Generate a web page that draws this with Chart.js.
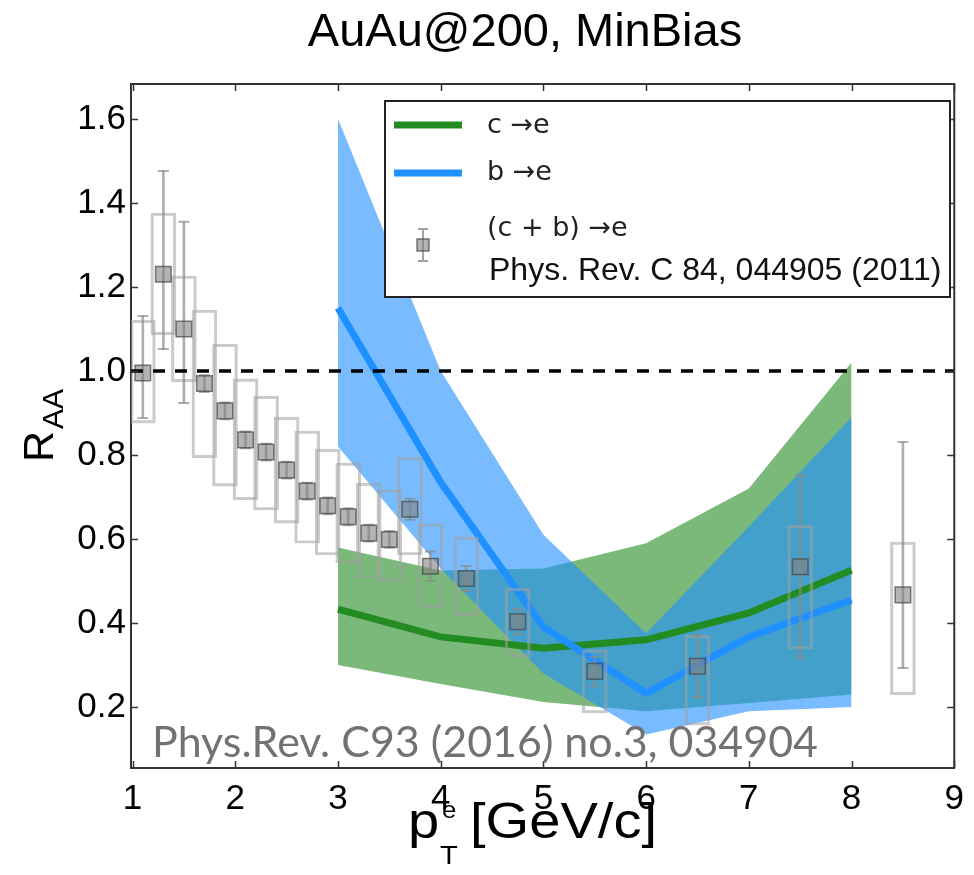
<!DOCTYPE html>
<html>
<head>
<meta charset="utf-8">
<script src="https://cdn.jsdelivr.net/npm/chart.js@4.4.1/dist/chart.umd.min.js"></script>
<style>
  html, body { margin: 0; padding: 0; background: #ffffff; }
  #wrap { width: 974px; height: 875px; }
</style>
</head>
<body>
<div id="wrap"><canvas id="raa" width="974" height="875"></canvas></div>
<script>
// ---- PHENIX heavy-flavour electrons, (c+b) -> e, Au+Au 200 GeV min. bias ----
const ptBins    = [1.1, 1.3, 1.5, 1.7, 1.9, 2.1, 2.3, 2.5, 2.7, 2.9, 3.1, 3.3, 3.5, 3.7, 3.9, 4.25, 4.75, 5.5, 6.5, 7.5, 8.5];
const raaValues = [0.995, 1.230, 1.100, 0.970, 0.905, 0.836, 0.807, 0.764, 0.714, 0.679, 0.653, 0.614, 0.599, 0.671, 0.535, 0.506, 0.403, 0.285, 0.297, 0.534, 0.467];
const statLow   = [0.888, 1.052, 0.924, 0.950, 0.885, 0.816, 0.787, 0.744, 0.694, 0.659, 0.633, 0.594, 0.579, 0.646, 0.500, 0.476, 0.373, 0.250, 0.224, 0.316, 0.293];
const statHigh  = [1.131, 1.476, 1.355, 0.990, 0.925, 0.856, 0.827, 0.784, 0.734, 0.699, 0.673, 0.634, 0.619, 0.696, 0.570, 0.536, 0.433, 0.320, 0.371, 0.752, 0.831];
const sysLow    = [0.876, 1.086, 0.974, 0.793, 0.726, 0.693, 0.669, 0.638, 0.590, 0.562, 0.543, 0.507, 0.498, 0.562, 0.436, 0.417, 0.319, 0.186, 0.157, 0.338, 0.229];
const sysHigh   = [1.121, 1.376, 1.226, 1.145, 1.064, 0.981, 0.940, 0.890, 0.857, 0.814, 0.781, 0.733, 0.717, 0.795, 0.636, 0.605, 0.483, 0.336, 0.371, 0.633, 0.593];

// ---- model curves: charm and bottom decay electrons ----
const modelPt   = [3, 4, 5, 6, 7, 8];
const charmLow  = [0.300, 0.255, 0.212, 0.190, 0.210, 0.230];
const charmMid  = [0.433, 0.367, 0.340, 0.360, 0.424, 0.526];
const charmHigh = [0.580, 0.525, 0.530, 0.590, 0.720, 1.020];
const bottomLow  = [0.820, 0.530, 0.280, 0.135, 0.190, 0.200];
const bottomMid  = [1.150, 0.735, 0.390, 0.233, 0.367, 0.455];
const bottomHigh = [1.600, 1.000, 0.610, 0.376, 0.630, 0.890];

// ---- axes ----
const xTickValues = [1, 2, 3, 4, 5, 6, 7, 8, 9];
const yTickValues = [0.2, 0.4, 0.6, 0.8, 1.0, 1.2, 1.4, 1.6];
const xRange = [0.985, 9];
const yRange = [0.055, 1.683];
const unityLevel = 1.0;

const SANS = "'Liberation Sans', Arial, Helvetica, sans-serif";
const GREEN = 'rgb(34,139,34)';
const BLUE = 'rgb(30,144,255)';

const pts = (xs, ys) => xs.map((x, i) => ({ x: x, y: ys[i] }));
const ranges = (xs, lo, hi) => xs.map((x, i) => ({ x: x, y: [lo[i], hi[i]] }));

const bandEdge = (data, order, fill, color) => ({
  type: 'line', data: data, order: order,
  borderColor: 'transparent', borderWidth: 0, pointRadius: 0,
  fill: fill, backgroundColor: color || 'transparent'
});

// the y scale box starts at the canvas edge so its labels are not clipped
const yLabelRoom = {
  id: 'yLabelRoom',
  afterLayout(chart) { chart.scales.y.left = 0; }
};

// inward tick marks on all four sides plus the top/right frame
const frameTicks = {
  id: 'frameTicks',
  afterDatasetsDraw(chart) {
    const { ctx, chartArea: a, scales } = chart;
    ctx.save();
    ctx.strokeStyle = '#333';
    ctx.lineWidth = 2;
    ctx.beginPath();
    ctx.moveTo(a.left, a.top); ctx.lineTo(a.right, a.top); ctx.lineTo(a.right, a.bottom);
    ctx.stroke();
    ctx.lineWidth = 1.5;
    ctx.beginPath();
    const len = 7;
    xTickValues.forEach(v => {
      const px = Math.round(scales.x.getPixelForValue(v)) + 0.5;
      ctx.moveTo(px, a.bottom); ctx.lineTo(px, a.bottom - len);
      ctx.moveTo(px, a.top); ctx.lineTo(px, a.top + len);
    });
    yTickValues.forEach(v => {
      const py = Math.round(scales.y.getPixelForValue(v)) + 0.5;
      ctx.moveTo(a.left, py); ctx.lineTo(a.left + len, py);
      ctx.moveTo(a.right, py); ctx.lineTo(a.right - len, py);
    });
    ctx.stroke();
    ctx.restore();
  }
};

// legend box with two model curves and the data entry
const legendBox = {
  id: 'legendBox',
  afterDatasetsDraw(chart) {
    const ctx = chart.ctx;
    ctx.save();
    ctx.fillStyle = '#fff';
    ctx.fillRect(385, 101, 565, 196);
    ctx.strokeStyle = '#222';
    ctx.lineWidth = 2;
    ctx.strokeRect(385, 101, 565, 196);

    ctx.lineWidth = 7;
    ctx.strokeStyle = GREEN;
    ctx.beginPath(); ctx.moveTo(394, 125); ctx.lineTo(462, 125); ctx.stroke();
    ctx.strokeStyle = BLUE;
    ctx.beginPath(); ctx.moveTo(394, 173); ctx.lineTo(462, 173); ctx.stroke();

    // data marker with error bar
    ctx.strokeStyle = 'rgba(140,140,140,0.8)';
    ctx.lineWidth = 2;
    ctx.beginPath();
    ctx.moveTo(423, 229); ctx.lineTo(423, 261);
    ctx.moveTo(418, 229); ctx.lineTo(428, 229);
    ctx.moveTo(418, 261); ctx.lineTo(428, 261);
    ctx.stroke();
    ctx.fillStyle = 'rgba(130,130,130,0.6)';
    ctx.fillRect(417, 239, 12, 12);
    ctx.strokeStyle = 'rgba(70,70,70,0.7)';
    ctx.lineWidth = 1.5;
    ctx.strokeRect(417, 239, 12, 12);

    ctx.fillStyle = '#222';
    ctx.textBaseline = 'middle';
    ctx.textAlign = 'left';
    ctx.font = "27px 'DejaVu Sans', sans-serif";
    ctx.fillText('c \u2192e', 487, 126);
    ctx.fillText('b \u2192e', 487, 173);
    ctx.fillText('(c + b) \u2192e', 487, 229);
    ctx.font = '32px ' + SANS;
    ctx.fillStyle = '#111';
    ctx.fillText('Phys. Rev. C 84, 044905 (2011)', 489, 271);
    ctx.restore();
  }
};

// draws one horizontally stretched text run at a baseline point
function stretchedText(ctx, text, x, y, font, sx) {
  ctx.save();
  ctx.font = font;
  ctx.translate(x, y);
  ctx.scale(sx, 1);
  ctx.fillText(text, 0, 0);
  ctx.restore();
}

// axis titles and the reference line in grey
const annotations = {
  id: 'annotations',
  afterDraw(chart) {
    const ctx = chart.ctx;
    ctx.save();
    ctx.fillStyle = '#000';
    ctx.textAlign = 'left';
    ctx.textBaseline = 'alphabetic';

    // y title: R_AA, rotated
    ctx.save();
    ctx.translate(53, 462);
    ctx.rotate(-Math.PI / 2);
    ctx.font = '43px ' + SANS;
    ctx.fillText('R', 0, 0);
    const rw = ctx.measureText('R').width;
    ctx.font = '30px ' + SANS;
    ctx.fillText('AA', rw + 2, 10);
    ctx.restore();

    // x title: p_T^e [GeV/c]
    const big = '50px ' + SANS;
    ctx.font = big;
    const sx = 187 / ctx.measureText('[GeV/c]').width;
    stretchedText(ctx, 'p', 408, 838, big, sx);
    stretchedText(ctx, 'e', 442, 818, '23px ' + SANS, sx);
    stretchedText(ctx, 'T', 440, 864, '26px ' + SANS, sx);
    stretchedText(ctx, '[GeV/c]', 470, 838, big, sx);

    // reference
    ctx.save();
    ctx.font = "42px Lato, 'Open Sans', sans-serif";
    const ref = 'Phys.Rev. C93 (2016) no.3, 034904';
    const w = ctx.measureText(ref).width;
    ctx.translate(152, 757);
    ctx.scale(666 / w, 1);
    ctx.fillStyle = 'rgb(118,113,113)';
    ctx.fillText(ref, 0, 0);
    ctx.restore();

    ctx.restore();
  }
};

new Chart(document.getElementById('raa'), {
  type: 'scatter',
  data: {
    datasets: [
      bandEdge(pts(modelPt, charmLow), 100, false),
      bandEdge(pts(modelPt, charmHigh), 100, '-1', 'rgba(34,139,34,0.6)'),
      bandEdge(pts(modelPt, bottomLow), 90, false),
      bandEdge(pts(modelPt, bottomHigh), 90, '-1', 'rgba(30,144,255,0.6)'),
      { type: 'line', label: 'c \u2192 e', data: pts(modelPt, charmMid), order: 50,
        borderColor: GREEN, borderWidth: 7, pointRadius: 0, fill: false },
      { type: 'line', label: 'b \u2192 e', data: pts(modelPt, bottomMid), order: 49,
        borderColor: BLUE, borderWidth: 7, pointRadius: 0, fill: false },
      { type: 'bar', label: 'syst', data: ranges(ptBins, sysLow, sysHigh), order: 40,
        grouped: false, barThickness: 25, backgroundColor: 'transparent',
        borderColor: 'rgba(160,160,160,0.55)', borderWidth: 2.5, borderSkipped: false },
      { type: 'bar', label: 'stat', data: ranges(ptBins, statLow, statHigh), order: 30,
        grouped: false, barThickness: 2, backgroundColor: 'rgba(140,140,140,0.7)', borderWidth: 0 },
      { type: 'scatter', label: 'stat low', data: pts(ptBins, statLow), order: 30,
        pointStyle: 'line', pointRadius: 5.5, borderColor: 'rgba(140,140,140,0.7)', borderWidth: 2 },
      { type: 'scatter', label: 'stat high', data: pts(ptBins, statHigh), order: 30,
        pointStyle: 'line', pointRadius: 5.5, borderColor: 'rgba(140,140,140,0.7)', borderWidth: 2 },
      { type: 'scatter', label: '(c + b) \u2192 e', data: pts(ptBins, raaValues), order: 20,
        pointStyle: 'rect', pointRadius: 11, backgroundColor: 'rgba(130,130,130,0.6)',
        borderColor: 'rgba(70,70,70,0.7)', borderWidth: 1.5 },
      { type: 'line', label: 'unity', data: [{ x: xRange[0], y: unityLevel }, { x: xRange[1], y: unityLevel }],
        order: 10, borderColor: '#000', borderWidth: 3.5, borderDash: [12, 10], pointRadius: 0, fill: false }
    ]
  },
  options: {
    responsive: false,
    animation: false,
    events: [],
    layout: { padding: { top: 0, right: 13, bottom: 0, left: 89 } },
    plugins: {
      legend: { display: false },
      tooltip: { enabled: false },
      title: {
        display: true,
        text: 'AuAu@200, MinBias',
        color: '#000',
        font: { family: SANS, size: 47, weight: 'normal', lineHeight: 1.2 },
        padding: { top: 5, bottom: 22.6 }
      }
    },
    scales: {
      x: {
        type: 'linear', min: xRange[0], max: xRange[1], offset: false,
        grid: { display: false, drawTicks: false },
        border: { display: true, color: '#333', width: 2 },
        afterBuildTicks: s => { s.ticks = xTickValues.map(v => ({ value: v })); },
        afterFit: s => { s.height = 107; },
        ticks: { color: '#000', padding: 10, font: { family: SANS, size: 35 },
                 callback: v => String(v), maxRotation: 0, autoSkip: false }
      },
      y: {
        type: 'linear', min: yRange[0], max: yRange[1],
        grid: { display: false, drawTicks: false },
        border: { display: true, color: '#333', width: 2 },
        afterBuildTicks: s => { s.ticks = yTickValues.map(v => ({ value: v })); },
        afterFit: s => { s.width = 42; },
        ticks: { color: '#000', padding: 5, font: { family: SANS, size: 35 },
                 callback: v => Number(v).toFixed(1), autoSkip: false }
      }
    }
  },
  plugins: [yLabelRoom, frameTicks, legendBox, annotations]
});
</script>
</body>
</html>
